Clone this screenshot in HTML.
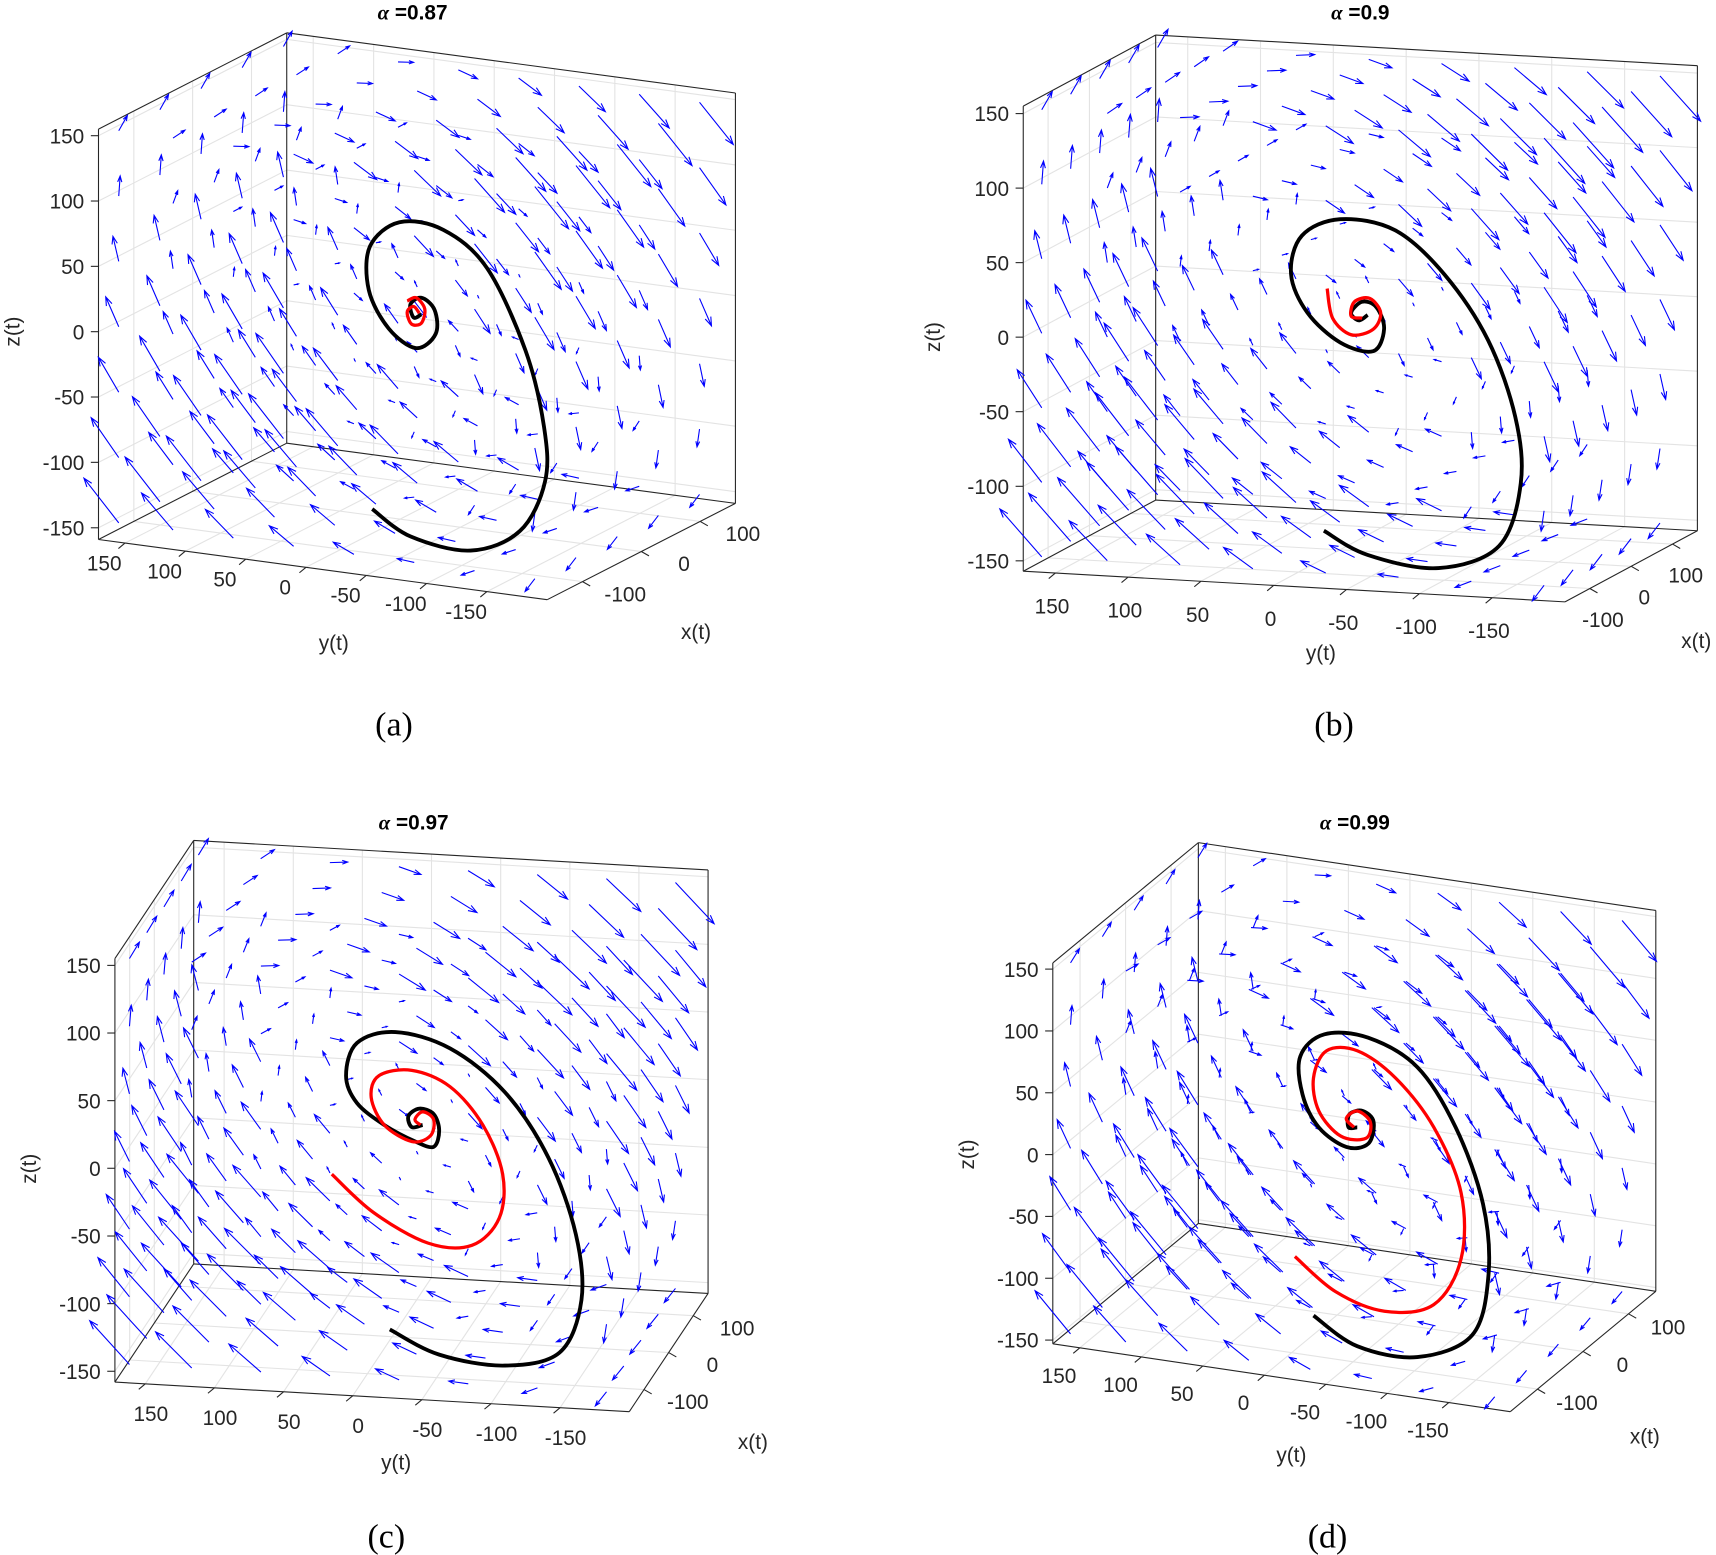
<!DOCTYPE html>
<html><head><meta charset="utf-8">
<style>
html,body{margin:0;padding:0;background:#fff;}
svg{display:block;}
</style></head>
<body>
<svg id="fig" width="1716" height="1555" viewBox="0 0 1568 1421" preserveAspectRatio="none" xmlns="http://www.w3.org/2000/svg"></svg>
<script>
// ---- data ----
const titles = ["0.87", "0.9", "0.97", "0.99"];
const captions = ["(a)", "(b)", "(c)", "(d)"];
const zTicks = [-150, -100, -50, 0, 50, 100, 150];
const yTicks = [150, 100, 50, 0, -50, -100, -150];
const xTicks = [-100, 0, 100];
const xLim = [-160, 160];
const yLim = [-200, 172];
const gridXs = [-140, -70, 0, 70, 140];
const gridYs = [-180, -130, -80, -30, 20, 70, 120, 165];
const gridZs = [-150, -100, -50, 0, 50, 100, 150];
const fieldRot = 0.12;
const fieldStrain = 0.06;
const fieldCenterY = -15;

// spirals: [y, z] keypoints at x = 0
const blackA = [[23.1,-154.1],[-8.6,-171.1],[-58.5,-175.8],[-99.4,-155.7],[-120.2,-115.4],[-119.3,-73.6],[-103.9,-16.9],[-72.1,42],[-36,66.8],[0.5,68.1],[25,46.6],[25.9,13.1],[9.5,-14.2],[-13.2,-26.5],[-29.5,-13.6],[-28.6,4.7],[-17.7,12.6],[-8.6,6.4],[-11.3,-3.3],[-17.7,0]];
const redA = [[-5.9,8.6],[-13.2,12.1],[-20.4,4.5],[-17.7,-6.7],[-9.5,-8.5],[-5.9,0.3],[-11.3,5.1],[-15.9,0.6]];
const blackB = [[11,-144.8],[-19,-159.4],[-67.8,-165.5],[-109.2,-148.4],[-124.2,-105.5],[-120.4,-61.2],[-101.7,-10.7],[-71.6,31.9],[-37.8,59.5],[-0.2,64.8],[26.1,52.3],[33.6,26.1],[22.3,0.8],[-0.2,-17.9],[-22.8,-22.5],[-30.3,-7.3],[-25,7.2],[-15.3,10.3],[-7.7,2.5],[-13,-2.4],[-19,1.6]];
const redB = [[8.8,17.8],[5,-1.9],[-7.7,-12.3],[-22.8,-7.8],[-28,3.6],[-20.5,12.8],[-10,10],[-7.7,0.3],[-15.3,-0.7]];
const blackC = [[1.7,-152.8],[-34,-169.3],[-81.5,-174.6],[-121.1,-162.6],[-136.9,-122.9],[-132.9,-74.6],[-113.1,-19.2],[-81.5,27.5],[-41.9,57.5],[-2.3,67.3],[25.4,57.6],[33.3,32.9],[25.4,13.2],[5.6,-1.9],[-16.5,-12.7],[-30,-15.9],[-34,-3.6],[-30,8.3],[-19.7,11.7],[-11.8,5.7],[-14.2,-2.3],[-22.1,-0.2]];
const redC = [[43.6,-40.5],[13.5,-67],[-26,-87.3],[-57.7,-87.1],[-77.5,-65.7],[-79.9,-33.2],[-65.6,2.3],[-41.9,29.2],[-14.2,39.7],[9.6,34.3],[15.1,17.8],[5.6,-1.9],[-14.2,-12.9],[-27.6,-8],[-30,4.3],[-22.1,9.5],[-16.5,3.5],[-20.5,-0.3]];
const blackD = [[19.2,-156.3],[-16.4,-175.8],[-65.3,-177.4],[-109.8,-153.2],[-123.1,-102.6],[-118.7,-45.7],[-96.4,13],[-65.3,57.1],[-25.3,75],[10.3,72.5],[29.9,51.9],[28.1,21.2],[14.8,-3.5],[-7.5,-16],[-25.3,-10.8],[-29.7,7.6],[-20.8,15.1],[-10.1,10.9],[-9.3,0.2],[-16.4,1.2]];
const redD = [[34.3,-110.7],[1.4,-134.2],[-38.6,-144.2],[-78.6,-133],[-100.9,-92.6],[-100.9,-39.5],[-78.6,10.4],[-47.6,45.6],[-16.4,63.1],[8.5,59.5],[19.2,35.8],[14.8,9.8],[-3,-7.9],[-23.5,-6.6],[-27,7.2],[-16.4,14.4],[-7.5,7],[-13.7,0.8]];
const blackSeries = [blackA, blackB, blackC, blackD];
const redSeries = [redA, redB, redC, redD];

// ---- layout (positions, not data) ----
const panels = [
  {P0:[90,493],Ux:[172,-88],Uy:[410,55],Uz:[0,-375],zLim:[-159,155],yOff:[-19,24],xOff:[39,17],title:[377,18],cap:[360,672],yl:[305,594],xl:[636,584],zl:[12,303]},
  {P0:[935,522],Ux:[121,-65],Uy:[495,28],Uz:[0,-425],zLim:[-157,155],yOff:[-3,36],xOff:[12,34],title:[1243,18],cap:[1219,672],yl:[1207,603],xl:[1550,592],zl:[853,308]},
  {P0:[105,1263],Ux:[72,-108],Uy:[470,27],Uz:[0,-387],zLim:[-158,155],yOff:[5,33],xOff:[40,17],title:[378,758],cap:[353,1414],yl:[362,1343],xl:[688,1324],zl:[27,1068]},
  {P0:[962,1228],Ux:[133,-110],Uy:[418,62],Uz:[0,-348],zLim:[-153,155],yOff:[-19,31],xOff:[36,18],title:[1238,758],cap:[1213,1414],yl:[1180,1336],xl:[1503,1319],zl:[884,1055]}
];

const NS = "http://www.w3.org/2000/svg";
const svg = document.getElementById('fig');
function mk(tag, attrs, parent) {
  const e = document.createElementNS(NS, tag);
  for (const k in attrs) e.setAttribute(k, attrs[k]);
  parent.appendChild(e);
  return e;
}
function proj(p, x, y, z) {
  const fx = (x - xLim[0]) / (xLim[1] - xLim[0]);
  const fy = (yLim[1] - y) / (yLim[1] - yLim[0]);
  const fz = (z - p.zLim[0]) / (p.zLim[1] - p.zLim[0]);
  return [p.P0[0] + fx*p.Ux[0] + fy*p.Uy[0] + fz*p.Uz[0],
          p.P0[1] + fx*p.Ux[1] + fy*p.Uy[1] + fz*p.Uz[1]];
}
function line(g, a, b, stroke, w) {
  return mk('line', {x1:a[0].toFixed(1), y1:a[1].toFixed(1), x2:b[0].toFixed(1), y2:b[1].toFixed(1), stroke:stroke, 'stroke-width':w}, g);
}
function smoothPath(pts) {
  let d = 'M' + pts[0][0].toFixed(1) + ',' + pts[0][1].toFixed(1);
  for (let i = 0; i < pts.length - 1; i++) {
    const p0 = pts[Math.max(0, i-1)], p1 = pts[i], p2 = pts[i+1], p3 = pts[Math.min(pts.length-1, i+2)];
    const c1 = [p1[0] + (p2[0]-p0[0])/6, p1[1] + (p2[1]-p0[1])/6];
    const c2 = [p2[0] - (p3[0]-p1[0])/6, p2[1] - (p3[1]-p1[1])/6];
    d += ' C' + c1[0].toFixed(1) + ',' + c1[1].toFixed(1) + ' ' + c2[0].toFixed(1) + ',' + c2[1].toFixed(1) + ' ' + p2[0].toFixed(1) + ',' + p2[1].toFixed(1);
  }
  return d;
}

panels.forEach((p, i) => {
  const xmn = xLim[0], xmx = xLim[1], ymn = yLim[0], ymx = yLim[1], zmn = p.zLim[0], zmx = p.zLim[1];
  const g = mk('g', {}, svg);
  
  

  const grid = mk('g', {}, g);
  
  
  const gc = '#e3e3e3';
  zTicks.forEach(z => {
    line(grid, proj(p, xmn, ymx, z), proj(p, xmx, ymx, z), gc, 1);
    line(grid, proj(p, xmx, ymx, z), proj(p, xmx, ymn, z), gc, 1);
  });
  yTicks.forEach(y => {
    line(grid, proj(p, xmx, y, zmn), proj(p, xmx, y, zmx), gc, 1);
    line(grid, proj(p, xmn, y, zmn), proj(p, xmx, y, zmn), gc, 1);
  });
  xTicks.forEach(x => {
    line(grid, proj(p, x, ymx, zmn), proj(p, x, ymx, zmx), gc, 1);
    line(grid, proj(p, x, ymx, zmn), proj(p, x, ymn, zmn), gc, 1);
  });

  const box = mk('g', {}, g);
  
  
  const bc = '#262626';
  const edges = [
    [[xmn,ymx,zmn],[xmn,ymx,zmx]], [[xmx,ymx,zmn],[xmx,ymx,zmx]], [[xmx,ymn,zmn],[xmx,ymn,zmx]],
    [[xmn,ymx,zmx],[xmx,ymx,zmx]], [[xmx,ymx,zmx],[xmx,ymn,zmx]],
    [[xmn,ymx,zmn],[xmn,ymn,zmn]], [[xmn,ymn,zmn],[xmx,ymn,zmn]],
    [[xmn,ymx,zmn],[xmx,ymx,zmn]], [[xmx,ymx,zmn],[xmx,ymn,zmn]]
  ];
  edges.forEach(e => line(box, proj(p, ...e[0]), proj(p, ...e[1]), bc, 1));

  const font = '"Liberation Sans", "DejaVu Sans", sans-serif';
  zTicks.forEach(z => {
    const a = proj(p, xmn, ymx, z);
    line(box, a, [a[0]-7, a[1]], bc, 1);
    const t = mk('text', {x:(a[0]-13).toFixed(1), y:(a[1]+7).toFixed(1), 'text-anchor':'end', 'font-family':font, 'font-size':19, fill:'#262626'}, g);
    t.textContent = z;
    
    
  });
  yTicks.forEach(y => {
    const a = proj(p, xmn, y, zmn);
    line(box, a, [a[0]-6, a[1]+5], bc, 1);
    const t = mk('text', {x:(a[0]+p.yOff[0]).toFixed(1), y:(a[1]+p.yOff[1]+1).toFixed(1), 'text-anchor':'middle', 'font-family':font, 'font-size':19, fill:'#262626'}, g);
    t.textContent = y;
    
    
  });
  xTicks.forEach(x => {
    const a = proj(p, x, ymn, zmn);
    line(box, a, [a[0]+7, a[1]+4], bc, 1);
    const t = mk('text', {x:(a[0]+p.xOff[0]).toFixed(1), y:(a[1]+p.xOff[1]+1).toFixed(1), 'text-anchor':'middle', 'font-family':font, 'font-size':19, fill:'#262626'}, g);
    t.textContent = x;
    
    
  });

  const q = mk('g', {stroke:'#0000ff', 'stroke-width':1, fill:'none'}, g);
  
  
  gridXs.forEach(x => gridYs.forEach(y => gridZs.forEach(z => {
    const yy = y - fieldCenterY;
    const dy = fieldStrain * yy - fieldRot * z;
    const dz = fieldRot * yy - fieldStrain * z;
    const a = proj(p, x, y, z), b = proj(p, x, y + dy, z + dz);
    const vx = b[0]-a[0], vy = b[1]-a[1], L = Math.hypot(vx, vy);
    if (L < 0.5) return;
    const ux = vx/L, uy = vy/L, h = Math.min(8, 0.3*L), s = h*0.35;
    const d = 'M' + a[0].toFixed(1) + ',' + a[1].toFixed(1) + 'L' + b[0].toFixed(1) + ',' + b[1].toFixed(1) +
      'M' + (b[0]-ux*h-uy*s).toFixed(1) + ',' + (b[1]-uy*h+ux*s).toFixed(1) + 'L' + b[0].toFixed(1) + ',' + b[1].toFixed(1) +
      'L' + (b[0]-ux*h+uy*s).toFixed(1) + ',' + (b[1]-uy*h-ux*s).toFixed(1);
    const pa = mk('path', {d:d}, q);
    
    
  })));

  const bpts = blackSeries[i].map(v => proj(p, 0, v[0], v[1]));
  const bk = mk('path', {d:smoothPath(bpts), stroke:'#000', 'stroke-width':3.5, fill:'none', 'stroke-linejoin':'round'}, g);
  
  
  const rpts = redSeries[i].map(v => proj(p, 0, v[0], v[1]));
  const rd = mk('path', {d:smoothPath(rpts), stroke:'#ff0000', 'stroke-width':3, fill:'none', 'stroke-linejoin':'round'}, g);
  
  

  const tt = mk('text', {x:p.title[0], y:p.title[1], 'text-anchor':'middle', 'font-family':font, 'font-size':19, 'font-weight':'bold', fill:'#000'}, g);
  tt.innerHTML = '<tspan font-family="Liberation Serif, serif" font-style="italic">α</tspan> =' + titles[i];
  
  
  const yl = mk('text', {x:p.yl[0], y:p.yl[1], 'text-anchor':'middle', 'font-family':font, 'font-size':19, fill:'#262626'}, g);
  yl.textContent = 'y(t)';
  
  
  const xl = mk('text', {x:p.xl[0], y:p.xl[1], 'text-anchor':'middle', 'font-family':font, 'font-size':19, fill:'#262626'}, g);
  xl.textContent = 'x(t)';
  
  
  const zl = mk('text', {x:0, y:0, 'text-anchor':'middle', 'font-family':font, 'font-size':19, fill:'#262626', transform:'translate(' + (p.zl[0]+6) + ',' + p.zl[1] + ') rotate(-90)'}, g);
  zl.textContent = 'z(t)';
  
  
  const cp = mk('text', {x:p.cap[0], y:p.cap[1], 'text-anchor':'middle', 'font-family':'"Liberation Serif", serif', 'font-size':31, fill:'#000'}, g);
  cp.textContent = captions[i];
  
  
});
</script>
</body></html>
